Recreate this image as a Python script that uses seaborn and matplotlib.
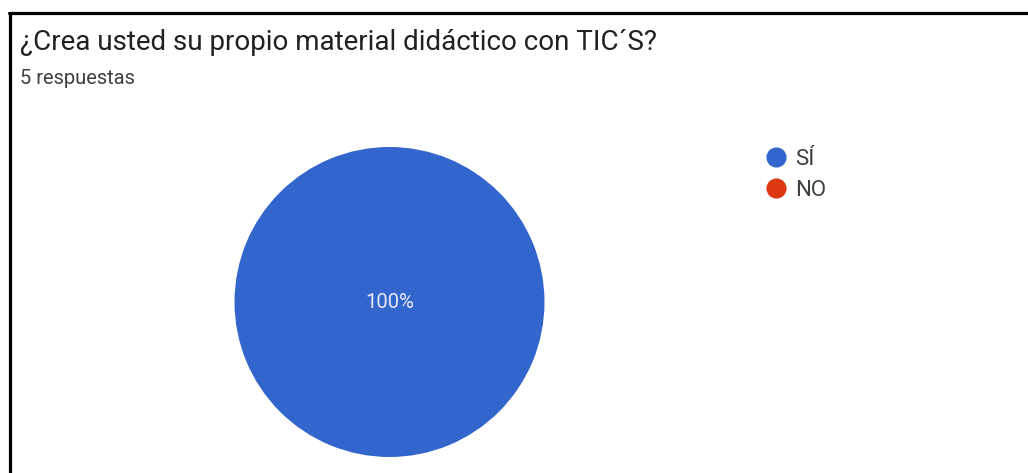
import matplotlib
matplotlib.use("Agg")
import matplotlib.pyplot as plt
from matplotlib.lines import Line2D
import seaborn as sns

title = "¿Crea usted su propio material didáctico con TIC´S?"
subtitle = "5 respuestas"
categories = ["SÍ", "NO"]
values = [5, 0]
colors = ["#3366CC", "#DC3912"]

sns.set_theme(style="white")
plt.rcParams['font.family'] = ['Roboto', 'DejaVu Sans']

W, H = 1028, 473
fig = plt.figure(figsize=(W / 100, H / 100), dpi=100)
fig.patch.set_facecolor("white")

cx, cy, r = 389.5, 302, 155
ax = fig.add_axes([(cx - r) / W, (H - cy - r) / H, 2 * r / W, 2 * r / H])

def fmt(p):
    return f"{p:.0f}%" if p > 0 else ""

wedges, texts, autotexts = ax.pie(values, colors=colors, startangle=90, counterclock=False,
                                  autopct=fmt, pctdistance=0.0, radius=1.0,
                                  wedgeprops=dict(linewidth=0, edgecolor="none"),
                                  textprops=dict(color="#e8eaf6", fontsize=14.5))
ax.set_xlim(-1, 1)
ax.set_ylim(-1, 1)
ax.set_aspect("equal")
ax.axis("off")

fig.text(20 / W, 1 - 43 / H, title, fontsize=20, color="#202124", va="center", ha="left")
fig.text(20 / W, 1 - 79 / H, subtitle, fontsize=14.5, color="#3c4043", va="center", ha="left")

handles = [Line2D([0], [0], marker="o", linestyle="none", markersize=13.5,
                  markerfacecolor=c, markeredgecolor=c) for c in colors]
fig.legend(handles, categories, loc="upper left", bbox_to_anchor=(765 / W, 1 - 149 / H),
           frameon=False, fontsize=16, labelcolor="#3c4043", handletextpad=0.35,
           labelspacing=0.45, handlelength=1.0, borderpad=0, borderaxespad=0)

# frame border (left and top)
fig.add_artist(Line2D([9.5 / W, 9.5 / W], [0, 1 - 13 / H], transform=fig.transFigure,
                      color="black", linewidth=2.3))
fig.add_artist(Line2D([8.5 / W, 1], [1 - 13 / H, 1 - 13 / H], transform=fig.transFigure,
                      color="black", linewidth=2.3))

fig.savefig("out.png", dpi=100, facecolor="white")
